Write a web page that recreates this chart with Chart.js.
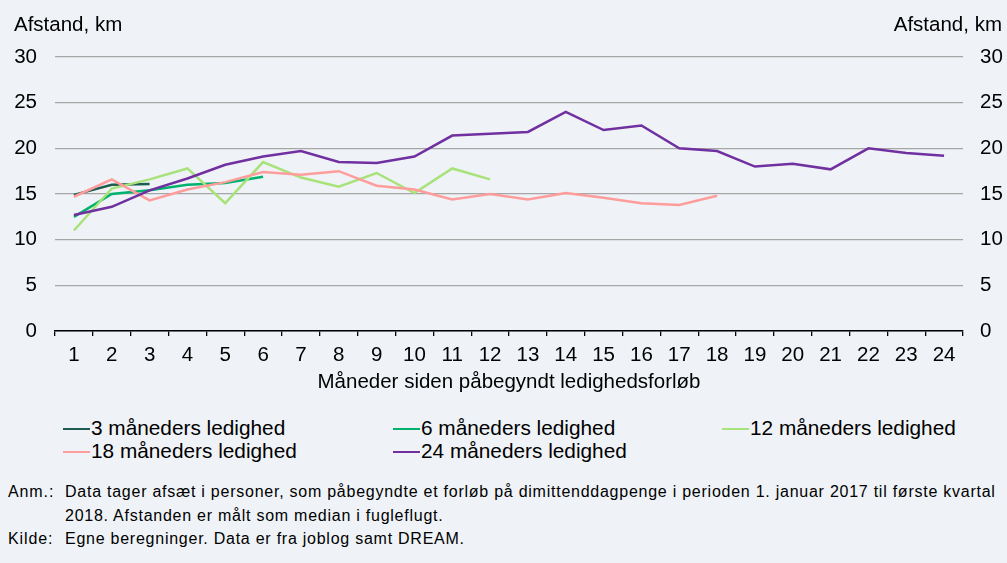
<!DOCTYPE html>
<html>
<head>
<meta charset="utf-8">
<script src="https://cdn.jsdelivr.net/npm/chart.js@4"></script>
<style>
  body { margin: 0; background: #eff3f7; font-family: "Liberation Sans", Arial, sans-serif; color: #000; }
  #wrap { position: relative; width: 1007px; height: 563px; overflow: hidden; }
  #chart { position: absolute; left: 0; top: 0; }
  .ytitle { position: absolute; top: 12px; font-size: 20.5px; }
  .leg { position: absolute; font-size: 20.8px; line-height: 24px; white-space: nowrap; }
  .leg i { display: inline-block; width: 27px; height: 0; border-top: 2.5px solid; vertical-align: middle; margin-right: 1px; position: relative; top: -1px; }
  .note { position: absolute; left: 8px; font-size: 16px; line-height: 22px; letter-spacing: 0.75px; white-space: nowrap; }
  .note span { display: inline-block; width: 57px; letter-spacing: 0.9px; }
  .note.ind { padding-left: 57px; }
</style>
</head>
<body>
<div id="wrap">
  <canvas id="chart" width="1007" height="400"></canvas>
  <div class="ytitle" style="left:14px">Afstand, km</div>
  <div class="ytitle" style="right:5px">Afstand, km</div>
  <div id="legend"></div>
  <div class="note" style="top:481px"><span>Anm.:</span>Data tager afsæt i personer, som påbegyndte et forløb på dimittenddagpenge i perioden 1. januar 2017 til første kvartal</div>
  <div class="note ind" style="top:505px">2018. Afstanden er målt som median i fugleflugt.</div>
  <div class="note" style="top:528px"><span>Kilde:</span>Egne beregninger. Data er fra joblog samt DREAM.</div>
</div>
<script>
const months = ["1", "2", "3", "4", "5", "6", "7", "8", "9", "10", "11", "12",
  "13", "14", "15", "16", "17", "18", "19", "20", "21", "22", "23", "24"];

const m3 = [14.9, 16.0, 16.1];
const m6 = [12.5, 15.0, 15.4, 16.0, 16.2, 16.9];
const m12 = [11.0, 15.6, 16.6, 17.8, 14.0, 18.5, 16.8, 15.8, 17.3, 15.1, 17.8, 16.6];
const m18 = [14.7, 16.6, 14.3, 15.5, 16.3, 17.4, 17.1, 17.5, 15.9, 15.5, 14.4, 15.0,
  14.4, 15.1, 14.6, 14.0, 13.8, 14.8];
const m24 = [12.7, 13.6, 15.4, 16.7, 18.2, 19.1, 19.7, 18.5, 18.4, 19.1, 21.4, 21.6,
  21.8, 24.0, 22.0, 22.5, 20.0, 19.7, 18.0, 18.3, 17.7, 20.0, 19.5, 19.2];

const yTicks = [0, 5, 10, 15, 20, 25, 30];

const series = [
  { label: "3 måneders ledighed", data: m3, color: "#1e5c50", order: 5 },
  { label: "6 måneders ledighed", data: m6, color: "#00b26e", order: 4 },
  { label: "12 måneders ledighed", data: m12, color: "#a8e27a", order: 3 },
  { label: "18 måneders ledighed", data: m18, color: "#ff9c9c", order: 2 },
  { label: "24 måneders ledighed", data: m24, color: "#7030a0", order: 1 },
];

// legend in three columns like the original
const legendPos = [[63, 416], [393, 416], [722, 416], [63, 439], [393, 439]];
const legend = document.getElementById("legend");
series.forEach((s, i) => {
  const div = document.createElement("div");
  div.className = "leg";
  div.style.left = legendPos[i][0] + "px";
  div.style.top = legendPos[i][1] + "px";
  div.innerHTML = `<i style="border-color:${s.color}"></i>${s.label}`;
  legend.appendChild(div);
});

const tickFont = { family: "Liberation Sans", size: 20.5 };

const yAxis = (position, width, pad, grid) => ({
  type: "linear",
  position: position,
  min: 0,
  max: 30,
  afterFit: (scale) => { scale.width = width; },
  afterBuildTicks: (scale) => { scale.ticks = yTicks.map((v) => ({ value: v })); },
  border: { display: false },
  grid: { display: grid, color: "#a6a6a6", lineWidth: 1.3, drawTicks: false },
  ticks: { color: "#000", font: tickFont, padding: pad, align: "center" },
});

new Chart(document.getElementById("chart"), {
  type: "line",
  data: {
    labels: months,
    datasets: series.map((s) => ({
      label: s.label,
      data: s.data,
      borderColor: s.color,
      backgroundColor: s.color,
      borderWidth: 2.5,
      pointRadius: 0,
      tension: 0,
      order: s.order,
    })),
  },
  options: {
    responsive: false,
    animation: false,
    layout: { padding: { top: 57, left: 0, right: 0, bottom: 0 } },
    plugins: { legend: { display: false }, tooltip: { enabled: false } },
    scales: {
      x: {
        offset: true,
        afterFit: (scale) => { scale.height = 69; },
        border: { color: "#000", width: 1.5 },
        grid: { offset: true, drawOnChartArea: false, color: "#000", tickLength: 5, lineWidth: 1.3 },
        ticks: { color: "#000", font: tickFont, padding: 7, maxRotation: 0, autoSkip: false },
        title: {
          display: true,
          text: "Måneder siden påbegyndt ledighedsforløb",
          color: "#000",
          font: tickFont,
          padding: { top: 0, bottom: 5 },
        },
      },
      y: yAxis("left", 55, 18, true),
      y2: yAxis("right", 44, 17, false),
    },
  },
});
</script>
</body>
</html>
